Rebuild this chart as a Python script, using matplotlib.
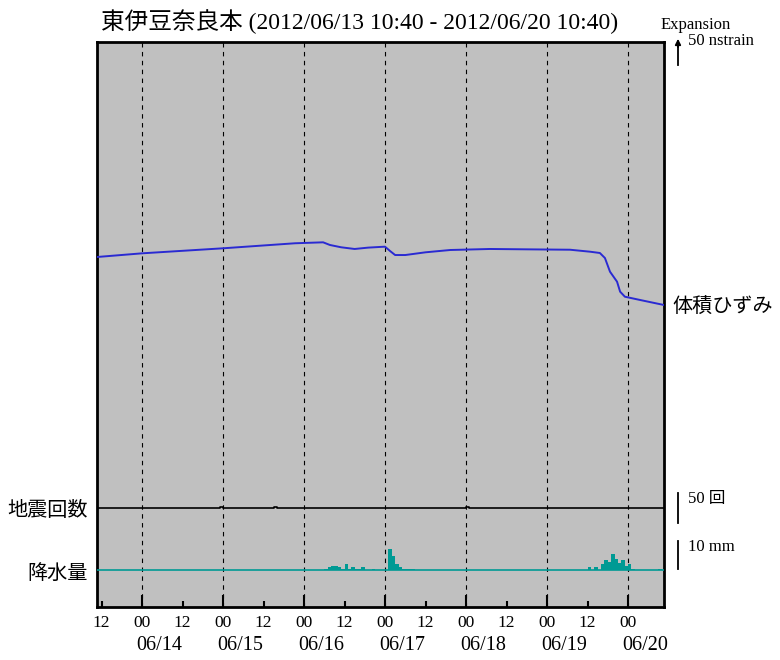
import matplotlib
matplotlib.use("Agg")
import matplotlib.pyplot as plt
import pandas as pd

plt.rcParams['font.family'] = ['Liberation Serif', 'Noto Sans CJK JP', 'DejaVu Sans']

# ---------------- data ----------------
start = "2012-06-13 10:40"
end = "2012-06-20 10:40"

strain_times = ["2012-06-13 10:40", "2012-06-14 00:00", "2012-06-15 00:00", "2012-06-15 21:20",
                "2012-06-16 05:40", "2012-06-16 07:40", "2012-06-16 11:00", "2012-06-16 15:00",
                "2012-06-16 19:00", "2012-06-17 00:00",
                "2012-06-17 01:30", "2012-06-17 03:00", "2012-06-17 06:00", "2012-06-17 12:00",
                "2012-06-17 19:20", "2012-06-18 07:05", "2012-06-18 17:30", "2012-06-19 06:50",
                "2012-06-19 12:45", "2012-06-19 15:40", "2012-06-19 17:10", "2012-06-19 18:40",
                "2012-06-19 20:45", "2012-06-19 21:40", "2012-06-19 23:05", "2012-06-20 03:35",
                "2012-06-20 10:40"]
strain_values = [-10.3, -4.9, 2.5, 9.9, 11.3, 7.4, 4.0, 1.5, 3.5, 4.9, -1.5, -7.4, -7.4, -3.4,
                 0.0, 1.5, 1.0, 0.4, -2.5, -4.4, -11.8, -31.9, -46.6, -61.3, -68.7, -73.5, -80.9]

quake_times = ["2012-06-13 10:40", "2012-06-14 22:00", "2012-06-14 23:00", "2012-06-15 00:00",
               "2012-06-15 14:00", "2012-06-15 15:00", "2012-06-15 16:00",
               "2012-06-17 23:00", "2012-06-18 00:00", "2012-06-18 01:00", "2012-06-20 10:40"]
quake_counts = [0, 0, 2, 0, 0, 2, 0, 0, 2, 0, 0]

rain_times = ["2012-06-13 10:00",
              "2012-06-16 05:00", "2012-06-16 06:00", "2012-06-16 07:00", "2012-06-16 08:00",
              "2012-06-16 09:00", "2012-06-16 10:00", "2012-06-16 11:00", "2012-06-16 12:00",
              "2012-06-16 13:00", "2012-06-16 14:00", "2012-06-16 15:00", "2012-06-16 16:00",
              "2012-06-16 17:00", "2012-06-16 18:00", "2012-06-16 19:00", "2012-06-16 20:00",
              "2012-06-16 21:00",
              "2012-06-17 00:00", "2012-06-17 01:00", "2012-06-17 02:00", "2012-06-17 03:00",
              "2012-06-17 04:00", "2012-06-17 05:00", "2012-06-17 06:00", "2012-06-17 07:00",
              "2012-06-17 08:00", "2012-06-17 09:00",
              "2012-06-19 11:00", "2012-06-19 12:00", "2012-06-19 13:00", "2012-06-19 14:00",
              "2012-06-19 15:00", "2012-06-19 16:00", "2012-06-19 17:00", "2012-06-19 18:00",
              "2012-06-19 19:00", "2012-06-19 20:00", "2012-06-19 21:00", "2012-06-19 22:00",
              "2012-06-19 23:00", "2012-06-20 00:00", "2012-06-20 01:00", "2012-06-20 02:00",
              "2012-06-20 08:00", "2012-06-20 09:00", "2012-06-20 10:00"]
rain_mm = [0,
           0, 0.5, 1.0, 1.5, 1.6, 1.0, 0.5, 2.2, 0.5, 1.0, 0.3, 0.5, 1.0, 0.0, 0.0, 0.5, 0.0,
           0, 7.5, 5.0, 2.0, 1.0, 0.5, 0.3, 0.5, 0.5, 0.0,
           0, 1.0, 0.0, 1.2, 0.0, 2.0, 3.5, 3.0, 5.7, 4.0, 2.5, 3.5, 1.5, 2.0, 0.3, 0.0,
           0, 0.3, 0.0]

date_labels = ["06/14", "06/15", "06/16", "06/17", "06/18", "06/19", "06/20"]

title = "東伊豆奈良本 (2012/06/13 10:40 - 2012/06/20 10:40)"

# ---------------- figure ----------------
fig = plt.figure(figsize=(7.8, 6.6), dpi=100)
pos = [97 / 780, (660 - 607) / 660, (664 - 97) / 780, (607 - 42) / 660]

ax = fig.add_axes(pos)
ax.set_facecolor('#c0c0c0')
ax_q = fig.add_axes(pos, sharex=ax)
ax_r = fig.add_axes(pos, sharex=ax)
for a in (ax_q, ax_r):
    a.patch.set_visible(False)
    a.axis('off')

t0 = pd.Timestamp(start)
t1 = pd.Timestamp(end)

st = pd.to_datetime(strain_times)
qt = pd.to_datetime(quake_times)
rt = pd.to_datetime(rain_times)

# rain (teal step fill)
teal = '#009a94'
ax_r.fill_between(rt, rain_mm, 0, step='post', color=teal, lw=0)
ax_r.plot([t0, t1], [0, 0], color=teal, lw=1.2)
ax_r.set_ylim(-37 / 2.8, 528 / 2.8)

# earthquake counts
ax_q.plot(qt, quake_counts, color='black', lw=1.2, drawstyle='steps-post')
ax_q.set_ylim(-99 / 0.6, 466 / 0.6)

# strain
ax.plot(st, strain_values, color='#2a2ad2', lw=1.4, zorder=3)
ax.set_ylim(-357 / 0.68, 208 / 0.68)
ax.set_xlim(t0, t1)

# dashed day lines
days = pd.date_range("2012-06-14", "2012-06-20", freq="D")
for d in days:
    ax.axvline(d, color='black', lw=0.8, ls=(0, (4, 4)), zorder=1)

# ticks
noons = pd.date_range("2012-06-13 12:00", "2012-06-19 12:00", freq="D")
ax.set_xticks(days)
ax.set_xticklabels(["00"] * len(days))
ax.set_xticks(noons, minor=True)
ax.set_xticklabels(["12"] * len(noons), minor=True)
ax.tick_params(axis='x', which='major', direction='in', length=9, width=1.5,
               labelsize=12.5, pad=6, top=False)
ax.tick_params(axis='x', which='minor', direction='in', length=4, width=1.5,
               labelsize=12.5, pad=6, top=False)
ax.set_yticks([])
for s in ax.spines.values():
    s.set_linewidth(2)

for d, lab in zip(days, date_labels):
    ax.text(d + pd.Timedelta(hours=5), -0.068, lab, transform=ax.get_xaxis_transform(),
            ha='center', va='center', fontsize=14.5)

fig.text(360 / 780, 1 - 22 / 660, title, ha='center', va='center', fontsize=17)

# side labels
fig.text(672 / 780, 1 - 308 / 660, "体積ひずみ", ha='left', va='center', fontsize=14.5)
fig.text(88 / 780, 1 - 512 / 660, "地震回数", ha='right', va='center', fontsize=14.5)
fig.text(88 / 780, 1 - 574 / 660, "降水量", ha='right', va='center', fontsize=14.5)

# scale bars
fig.text(661 / 780, 1 - 25 / 660, "Expansion", ha='left', va='center', fontsize=12)
fig.text(688 / 780, 1 - 41 / 660, "50 nstrain", ha='left', va='center', fontsize=12)
fig.add_artist(plt.Line2D([678 / 780, 678 / 780], [1 - 65 / 660, 1 - 42 / 660],
                          color='black', lw=1.3))
fig.add_artist(matplotlib.patches.FancyArrowPatch((678 / 780, 1 - 50 / 660), (678 / 780, 1 - 36 / 660),
                                                  transform=fig.transFigure, arrowstyle='-|>',
                                                  mutation_scale=8, color='black', lw=1.3))
fig.add_artist(plt.Line2D([678 / 780, 678 / 780], [1 - 523 / 660, 1 - 493 / 660],
                          color='black', lw=1.3))
fig.text(688 / 780, 1 - 499 / 660, "50 回", ha='left', va='center', fontsize=12)
fig.add_artist(plt.Line2D([678 / 780, 678 / 780], [1 - 569 / 660, 1 - 541 / 660],
                          color='black', lw=1.3))
fig.text(688 / 780, 1 - 547 / 660, "10 mm", ha='left', va='center', fontsize=12)

fig.savefig("out.png", dpi=100)
